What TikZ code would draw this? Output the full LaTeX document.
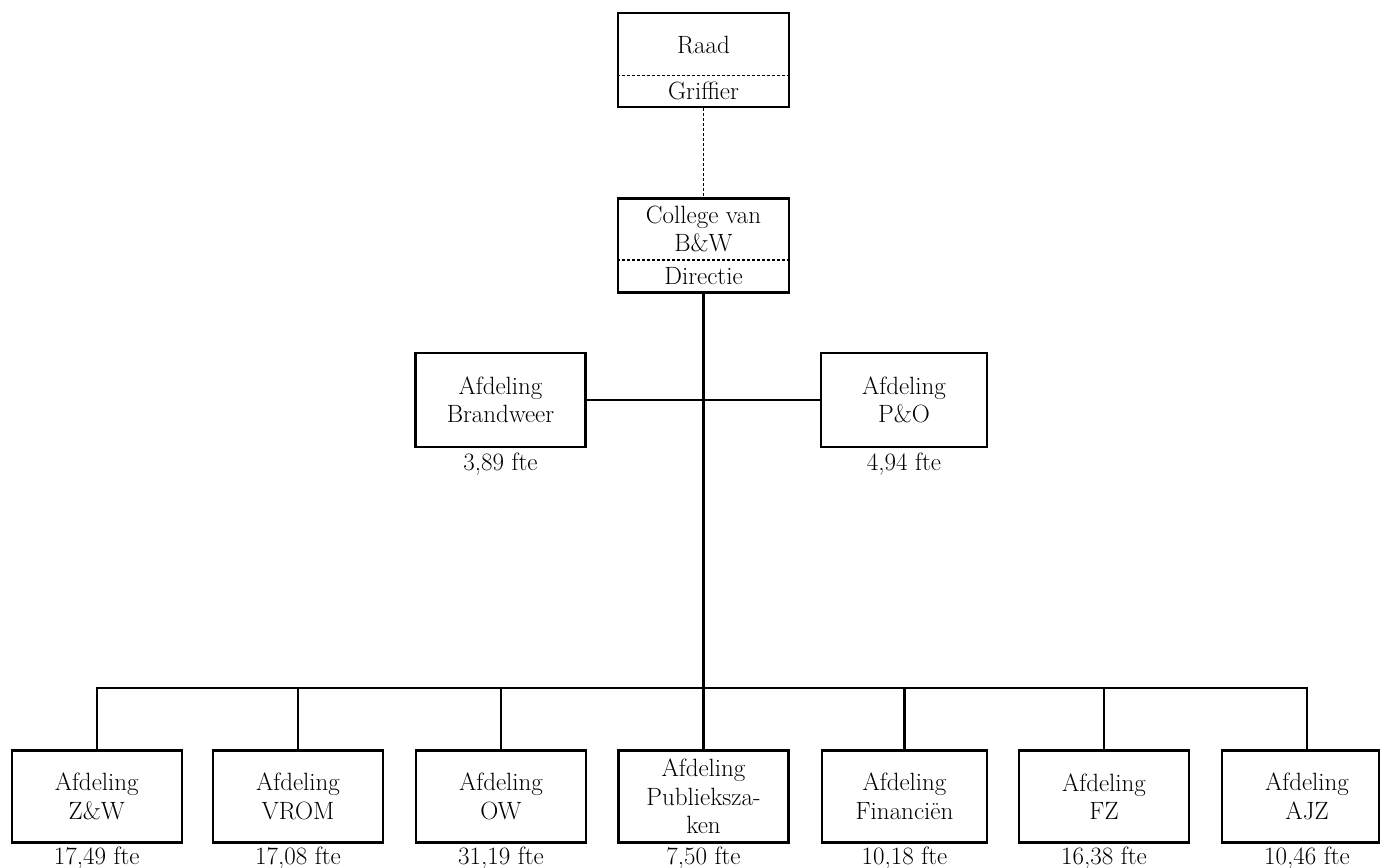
\documentclass[tikz,border=0pt]{standalone}
\begin{document}
\begin{tikzpicture}[x=1pt,y=-1pt,
  orgbox/.style={draw=black, line width=2.4pt, inner sep=0pt, minimum height=92pt, minimum width=170pt, align=center, font=\fontsize{25}{28.5}\selectfont},
  lbl/.style={anchor=base, inner sep=0pt, font=\fontsize{25}{28.5}\selectfont},
  conn/.style={line width=2.4pt},
  dconn/.style={line width=1.1pt, dash pattern=on 3pt off 2pt}]
\useasboundingbox (0,0) rectangle (1380,867);

% top boxes
\node[orgbox, minimum width=171pt, minimum height=94pt] (raad) at (703.5,60) {};
\node[lbl] (raadt) at (703.5,53) {Raad};
\node[lbl] (griff) at (703.5,99) {Griffier};
\draw[dconn] (raad.west |- 0,75.5) coordinate (rsl) -- (raad.east |- 0,75.5) coordinate (rsr);

\node[orgbox, minimum width=171pt, minimum height=94pt] (college) at (703.5,245.5) {};
\node[lbl] (colt1) at (703.5,223) {College van};
\node[lbl] (colt2) at (703.5,251) {B\&W};
\node[lbl] (direc) at (703.5,284) {Directie};
\draw[dconn] (college.west |- 0,260) coordinate (csl) -- (college.east |- 0,260) coordinate (csr);

\draw[dconn] (raad.south) -- (college.north);

% middle boxes
\node[orgbox, minimum height=94pt] (brand) at (500.5,400) {Afdeling\\Brandweer};
\node[orgbox, minimum height=94pt, minimum width=166pt] (po) at (904,400) {Afdeling\\P\&O};
\node[lbl] (brandf) at (500.5,470) {3,89 fte};
\node[lbl] (pof) at (904,470) {4,94 fte};
\draw[conn] (brand.east) -- (po.west);

% bottom boxes
\node[orgbox] (zw) at (96.7,796.5) {Afdeling\\Z\&W};
\node[orgbox] (vrom) at (298,796.5) {Afdeling\\VROM};
\node[orgbox] (ow) at (501,796.5) {Afdeling\\OW};
\node[orgbox] (publ) at (703.5,796.5) {Afdeling\\Publieksza-\\ken};
\node[orgbox, minimum width=165pt] (fin) at (904.5,796.5) {Afdeling\\Financiën};
\node[orgbox] (fz) at (1104,796.5) {Afdeling\\FZ};
\node[orgbox, minimum width=157pt] (ajz) at (1300.5,796.5) {\hspace*{13pt}Afdeling\\\hspace*{13pt}AJZ};

\node[lbl] (zwf) at (96.7,864) {17,49 fte};
\node[lbl] (vromf) at (298,864) {17,08 fte};
\node[lbl] (owf) at (501,864) {31,19 fte};
\node[lbl] (publf) at (703.5,864) {7,50 fte};
\node[lbl] (finf) at (904.5,864) {10,18 fte};
\node[lbl] (fzf) at (1104,864) {16,38 fte};
\node[lbl] (ajzf) at (1307,864) {10,46 fte};

% connectors
\coordinate (bar) at (703.5,688);
\coordinate (ajztop) at (1307,751);
\draw[conn] (college.south) -- (publ.north);
\draw[conn] (zw.north) |- (ajztop |- bar) -- (ajztop);
\draw[conn] (vrom.north) -- (vrom.north |- bar);
\draw[conn] (ow.north) -- (ow.north |- bar);
\draw[conn] (fin.north) -- (fin.north |- bar);
\draw[conn] (fz.north) -- (fz.north |- bar);
\end{tikzpicture}
\end{document}
